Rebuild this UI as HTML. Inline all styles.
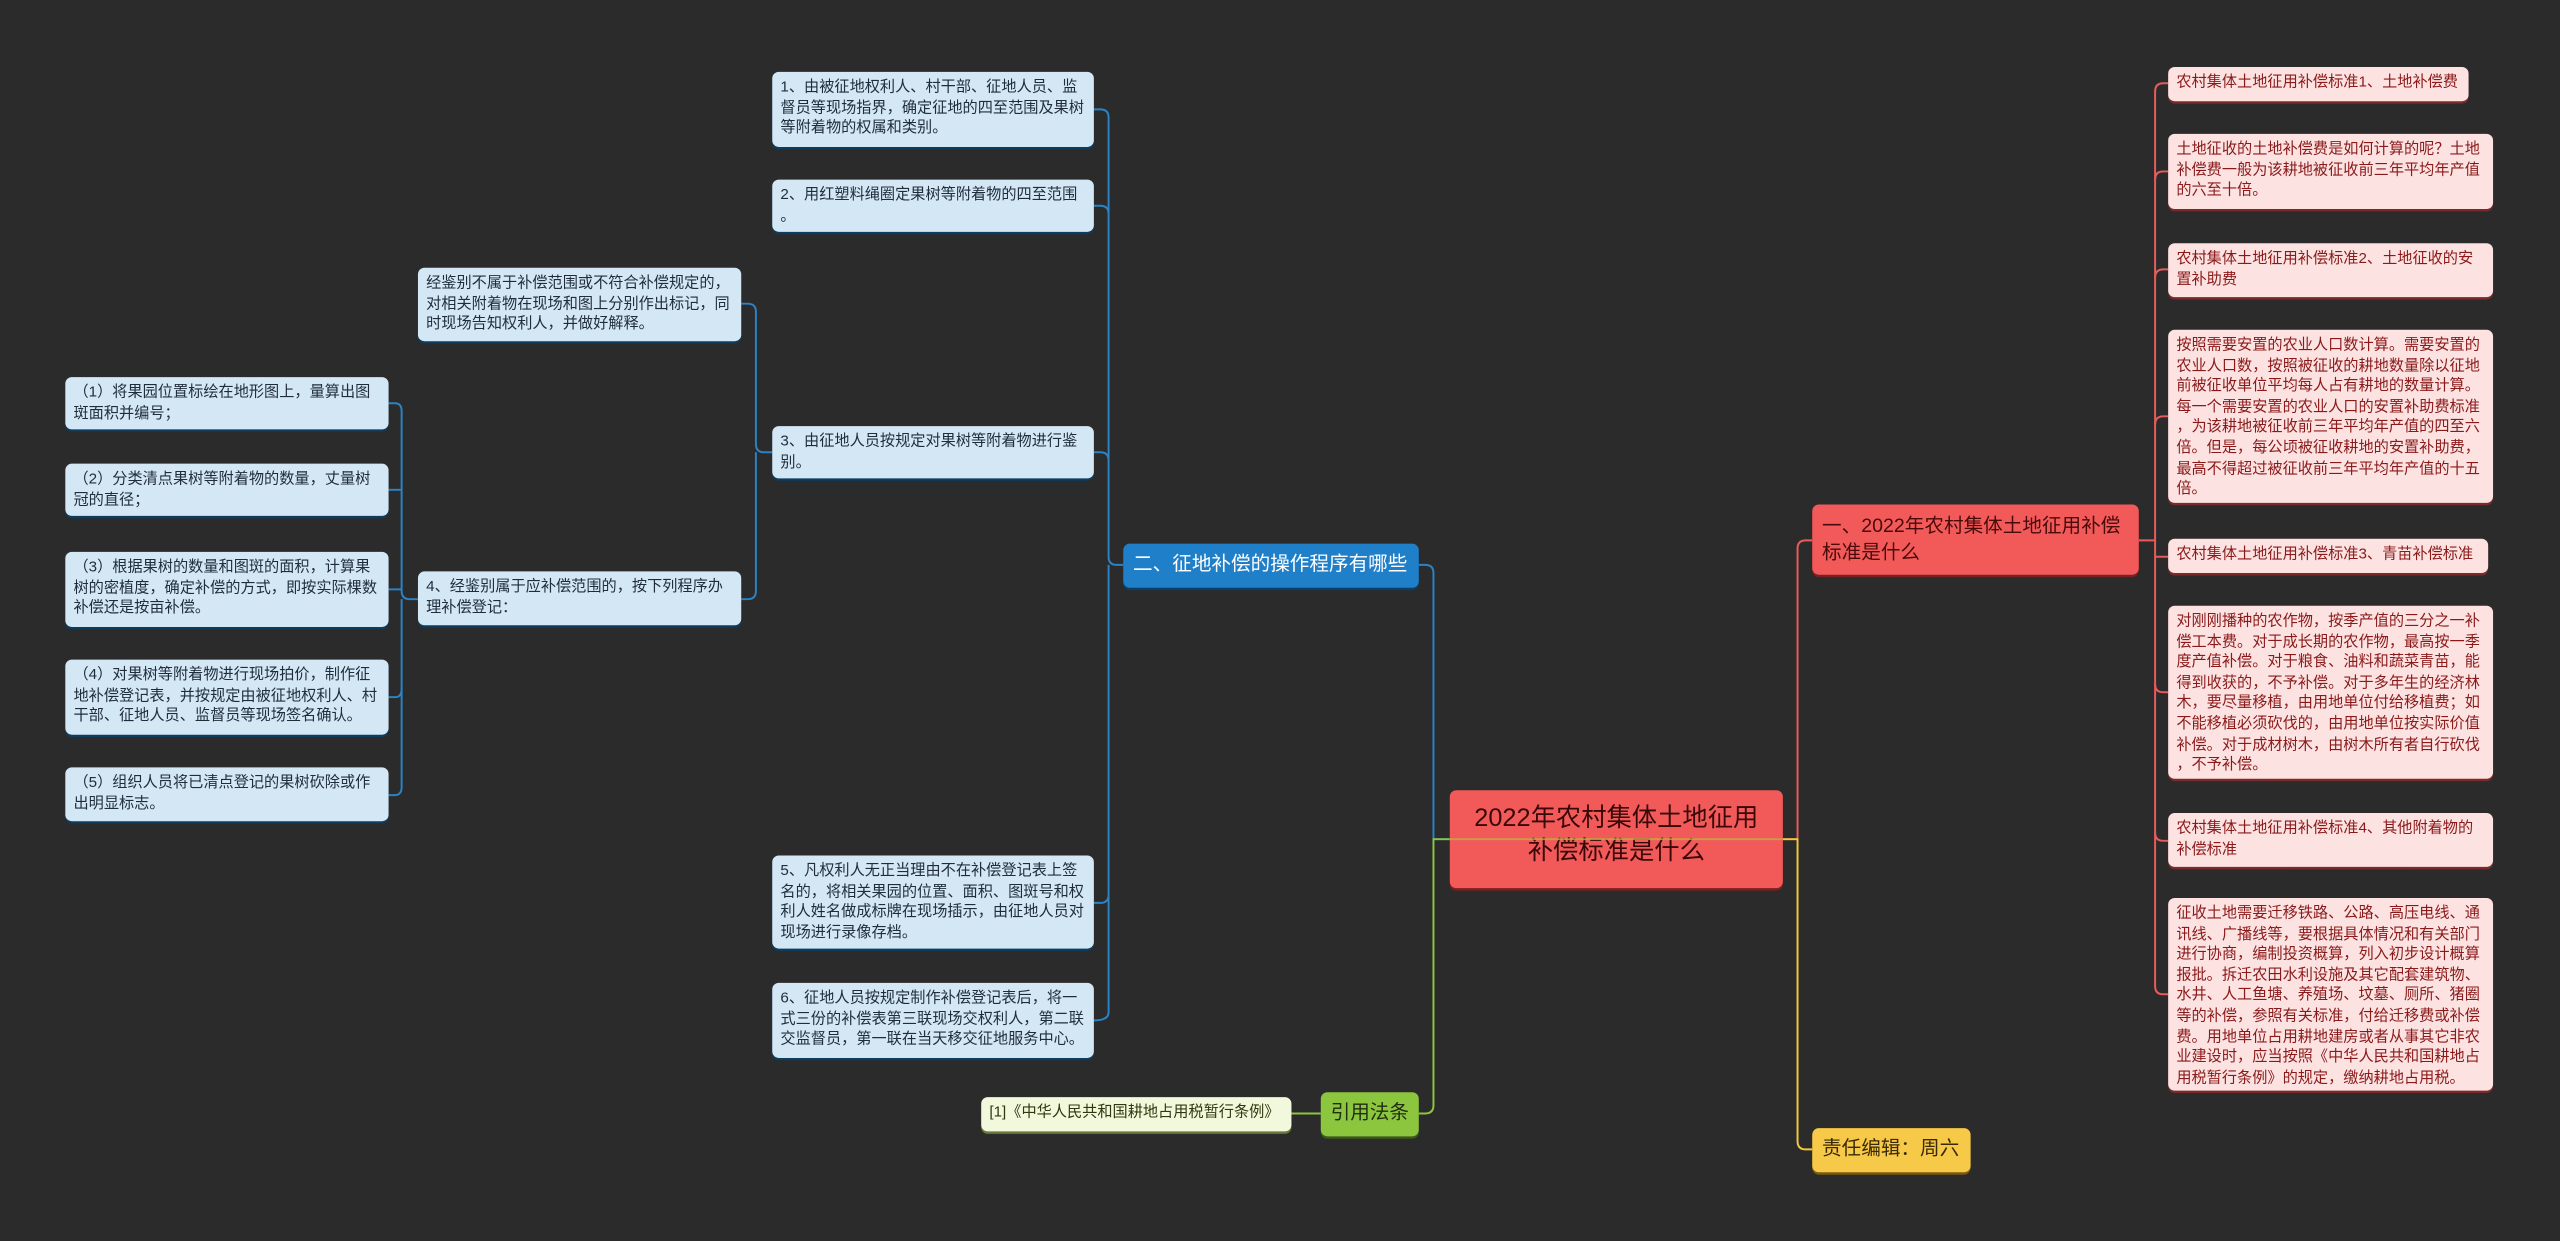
<!DOCTYPE html>
<html><head><meta charset="utf-8">
<style>
html,body{margin:0;padding:0;background:#2b2b2b;width:2560px;height:1241px;overflow:hidden}
#w{position:absolute;left:0;top:0;width:1568px;height:760px;transform:scale(1.63265);transform-origin:0 0;font-family:"Liberation Sans","Noto Sans CJK SC",sans-serif}
svg{position:absolute;left:0;top:0}
.n{position:absolute;box-sizing:border-box;border-radius:4px;white-space:nowrap;font-size:9.3px;line-height:12.6px;padding:3px 5px}
.b{background:#d4e7f5;color:#1f2d3a;box-shadow:0 1.5px 0 #0f3b5c}
.r{background:#fde2e2;color:#8a1a1a;box-shadow:0 1.5px 0 #7a2a2a}
.m{font-size:12px;line-height:16px;padding:4px 6px}
</style></head><body><div id="w">
<svg width="1568" height="760" viewBox="0 0 1568 760" fill="none" stroke-width="1.2">
<g stroke="#2b83c6">
<path d="M688 346 H684 Q679 346 679 341 V72 Q679 67 674 67 H670"/>
<path d="M679 131 Q679 126 674 126 H670"/>
<path d="M679 282 Q679 277 674 277 H670"/>
<path d="M679 346 V548 Q679 553 674 553 H670"/>
<path d="M679 548 V620 Q679 625 670 625"/>
<path d="M473 277 H468 Q463 277 463 272 V191 Q463 186 458 186 H454"/>
<path d="M463 277 V362 Q463 367 458 367 H454"/>
<path d="M256 367 H251 Q246 367 246 362 V252 Q246 247 242 247 H238"/>
<path d="M246 300 Q246 300 238 300"/>
<path d="M246 361 H238"/>
<path d="M246 367 V422 Q246 427 242 427 H238"/>
<path d="M246 422 V482 Q246 487 242 487 H238"/>
<path d="M888 514 H878 V351 Q878 346 873 346 H869"/>
</g>
<g stroke="#8cc63f">
<path d="M888 514 H878 V677 Q878 682 873 682 H869"/>
<path d="M809 682 H791"/>
</g>
<g stroke="#e85c5c">
<path d="M1092 514 H1101 V336 Q1101 331 1106 331 H1110"/>
<path d="M1310 331 H1320 V56 Q1320 51 1325 51 H1328"/>
<path d="M1320 110 Q1320 105 1325 105 H1328"/>
<path d="M1320 170 Q1320 165 1325 165 H1328"/>
<path d="M1320 260 Q1320 255 1325 255 H1328"/>
<path d="M1320 341 H1328"/>
<path d="M1320 331 V419 Q1320 424 1325 424 H1328"/>
<path d="M1320 419 V510 Q1320 515 1325 515 H1328"/>
<path d="M1320 510 V604 Q1320 609 1325 609 H1328"/>
</g>
<g stroke="#f0c93a">
<path d="M1092 514 H1101 V699 Q1101 704 1106 704 H1110"/>
</g>
</svg>

<div class="n b" style="left:473px;top:44px;width:197px;height:46px">1、由被征地权利人、村干部、征地人员、监<br>督员等现场指界，确定征地的四至范围及果树<br>等附着物的权属和类别。</div>
<div class="n b" style="left:473px;top:110px;width:197px;height:32px">2、用红塑料绳圈定果树等附着物的四至范围<br>。</div>
<div class="n b" style="left:256px;top:164px;width:198px;height:45px">经鉴别不属于补偿范围或不符合补偿规定的，<br>对相关附着物在现场和图上分别作出标记，同<br>时现场告知权利人，并做好解释。</div>
<div class="n b" style="left:473px;top:261px;width:197px;height:32px">3、由征地人员按规定对果树等附着物进行鉴<br>别。</div>
<div class="n b" style="left:256px;top:350px;width:198px;height:33px">4、经鉴别属于应补偿范围的，按下列程序办<br>理补偿登记：</div>
<div class="n b" style="left:40px;top:231px;width:198px;height:32px">（1）将果园位置标绘在地形图上，量算出图<br>斑面积并编号；</div>
<div class="n b" style="left:40px;top:284px;width:198px;height:32px">（2）分类清点果树等附着物的数量，丈量树<br>冠的直径；</div>
<div class="n b" style="left:40px;top:338px;width:198px;height:46px">（3）根据果树的数量和图斑的面积，计算果<br>树的密植度，确定补偿的方式，即按实际棵数<br>补偿还是按亩补偿。</div>
<div class="n b" style="left:40px;top:404px;width:198px;height:46px">（4）对果树等附着物进行现场拍价，制作征<br>地补偿登记表，并按规定由被征地权利人、村<br>干部、征地人员、监督员等现场签名确认。</div>
<div class="n b" style="left:40px;top:470px;width:198px;height:33px">（5）组织人员将已清点登记的果树砍除或作<br>出明显标志。</div>
<div class="n b" style="left:473px;top:524px;width:197px;height:57px">5、凡权利人无正当理由不在补偿登记表上签<br>名的，将相关果园的位置、面积、图斑号和权<br>利人姓名做成标牌在现场插示，由征地人员对<br>现场进行录像存档。</div>
<div class="n b" style="left:473px;top:602px;width:197px;height:46px">6、征地人员按规定制作补偿登记表后，将一<br>式三份的补偿表第三联现场交权利人，第二联<br>交监督员，第一联在当天移交征地服务中心。</div>

<div class="n m" style="left:688px;top:333px;width:181px;height:27px;background:#1f7fc8;color:#fff;box-shadow:0 1.5px 0 #0d3f66">二、征地补偿的操作程序有哪些</div>
<div class="n m" style="left:809px;top:669px;width:60px;height:27px;background:#8cc63f;color:#1f2d10;text-align:center;box-shadow:0 1.5px 0 #3d5a18">引用法条</div>
<div class="n" style="left:601px;top:672px;width:190px;height:21px;background:#f1f8dc;color:#2d3a10;box-shadow:0 1.5px 0 #667a3a">[1]《中华人民共和国耕地占用税暂行条例》</div>

<div class="n" style="left:888px;top:484px;width:204px;height:60px;background:#f25a5a;color:#3a0808;font-size:15.5px;line-height:20px;padding:8px 4px;text-align:center;box-shadow:0 1.5px 0 #7a2020">2022年农村集体土地征用<br>补偿标准是什么</div>

<div class="n m" style="left:1110px;top:309px;width:200px;height:43px;background:#f25a5a;color:#4a0a0a;padding:5px 6px;box-shadow:0 1.5px 0 #7a2020">一、2022年农村集体土地征用补偿<br>标准是什么</div>
<div class="n m" style="left:1110px;top:691px;width:97px;height:27px;background:#f7c948;color:#3a2a05;box-shadow:0 1.5px 0 #7a5a10">责任编辑：周六</div>

<div class="n r" style="left:1328px;top:41px;width:184px;height:21px">农村集体土地征用补偿标准1、土地补偿费</div>
<div class="n r" style="left:1328px;top:82px;width:199px;height:46px">土地征收的土地补偿费是如何计算的呢？土地<br>补偿费一般为该耕地被征收前三年平均年产值<br>的六至十倍。</div>
<div class="n r" style="left:1328px;top:149px;width:199px;height:33px">农村集体土地征用补偿标准2、土地征收的安<br>置补助费</div>
<div class="n r" style="left:1328px;top:202px;width:199px;height:106px">按照需要安置的农业人口数计算。需要安置的<br>农业人口数，按照被征收的耕地数量除以征地<br>前被征收单位平均每人占有耕地的数量计算。<br>每一个需要安置的农业人口的安置补助费标准<br>，为该耕地被征收前三年平均年产值的四至六<br>倍。但是，每公顷被征收耕地的安置补助费，<br>最高不得超过被征收前三年平均年产值的十五<br>倍。</div>
<div class="n r" style="left:1328px;top:330px;width:196px;height:21px">农村集体土地征用补偿标准3、青苗补偿标准</div>
<div class="n r" style="left:1328px;top:371px;width:199px;height:106px">对刚刚播种的农作物，按季产值的三分之一补<br>偿工本费。对于成长期的农作物，最高按一季<br>度产值补偿。对于粮食、油料和蔬菜青苗，能<br>得到收获的，不予补偿。对于多年生的经济林<br>木，要尽量移植，由用地单位付给移植费；如<br>不能移植必须砍伐的，由用地单位按实际价值<br>补偿。对于成材树木，由树木所有者自行砍伐<br>，不予补偿。</div>
<div class="n r" style="left:1328px;top:498px;width:199px;height:33px">农村集体土地征用补偿标准4、其他附着物的<br>补偿标准</div>
<div class="n r" style="left:1328px;top:550px;width:199px;height:118px">征收土地需要迁移铁路、公路、高压电线、通<br>讯线、广播线等，要根据具体情况和有关部门<br>进行协商，编制投资概算，列入初步设计概算<br>报批。拆迁农田水利设施及其它配套建筑物、<br>水井、人工鱼塘、养殖场、坟墓、厕所、猪圈<br>等的补偿，参照有关标准，付给迁移费或补偿<br>费。用地单位占用耕地建房或者从事其它非农<br>业建设时，应当按照《中华人民共和国耕地占<br>用税暂行条例》的规定，缴纳耕地占用税。</div>

<svg width="1568" height="760" viewBox="0 0 1568 760" fill="none" stroke-width="1.2" style="pointer-events:none">
<path d="M888 514 H1092" stroke="#b8b040" stroke-opacity="0.8"/>
</svg>
</div></body></html>
